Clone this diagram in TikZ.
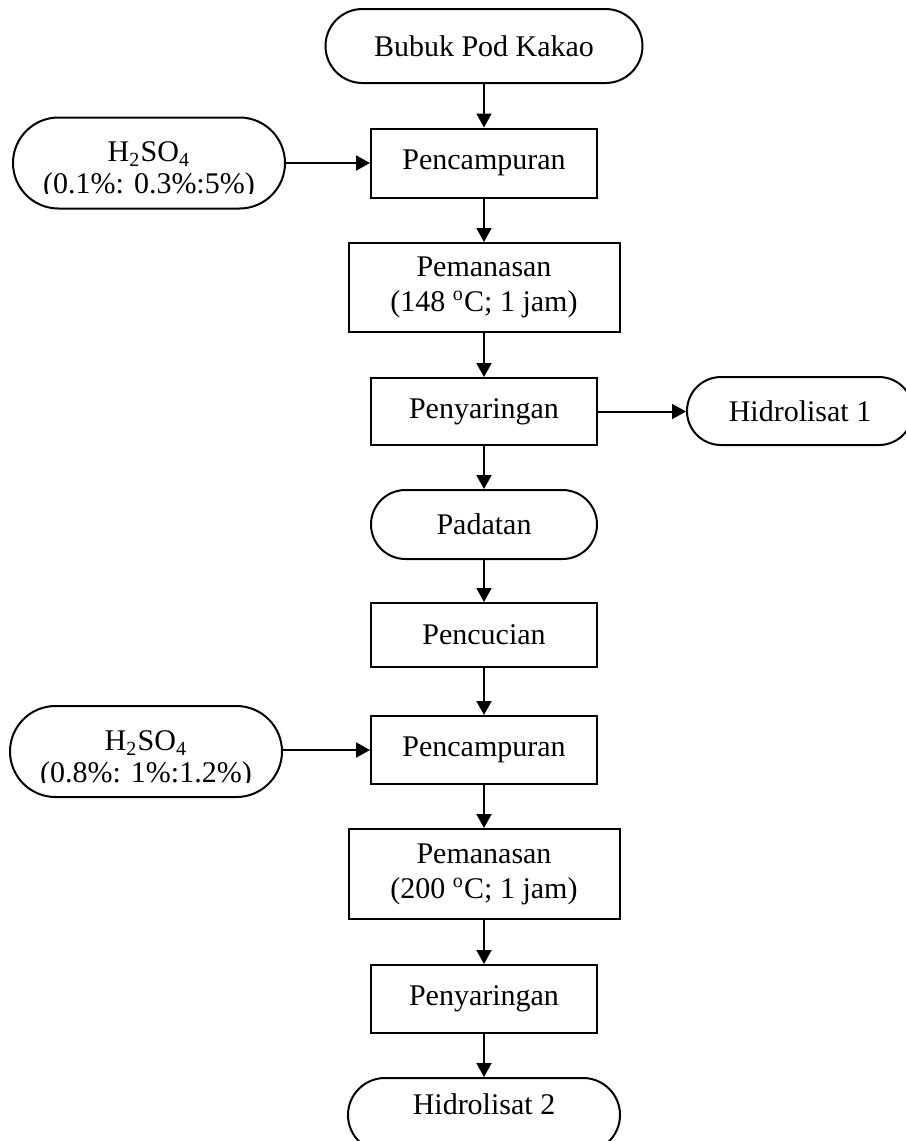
\documentclass[tikz,border=0pt]{standalone}
\usepackage{fontspec}
\setmainfont{Liberation Serif}
\usetikzlibrary{arrows.meta}
\begin{document}
\begin{tikzpicture}[x=0.4pt,y=-0.4pt,
  every node/.style={font=\fontsize{12}{14}\selectfont, inner sep=0pt, line width=0.8pt},
  procbox/.style={draw, rectangle, minimum width=90.4pt, minimum height=27.2pt, align=center},
  termbox/.style={draw, rectangle, align=center},
  acidtext/.style={align=center, font=\fontsize{12}{12.8}\selectfont},
  arr/.style={-{Triangle[length=5.6pt,width=6pt]}, line width=0.8pt}]
\useasboundingbox (0,0) rectangle (906,1141);
\clip (0,0) rectangle (906,1141);

% main column
\node[termbox, minimum width=126.8pt, minimum height=29.6pt, rounded corners=14.8pt] (bubuk) at (484,46) {Bubuk Pod Kakao};
\node[procbox, minimum height=27.6pt] (mix1) at (484,163) {Pencampuran};
\node[procbox, minimum width=108.4pt, minimum height=35.6pt] (heat1) at (484,287.5) {Pemanasan\\(148 \textsuperscript{o}C; 1 jam)};
\node[procbox, minimum height=26.8pt] (filt1) at (484,411.5) {Penyaringan};
\node[termbox, minimum width=90.4pt, minimum height=27.2pt, rounded corners=13.6pt] (hid1) at (800,411) {Hidrolisat 1};
\node[termbox, minimum width=90.4pt, minimum height=27.6pt, rounded corners=13.8pt] (padatan) at (484,524.5) {Padatan};
\node[procbox, minimum height=25.6pt] (wash) at (484,635) {Pencucian};
\node[procbox] (mix2) at (484,750) {Pencampuran};
\node[procbox, minimum width=108.4pt, minimum height=36pt] (heat2) at (484,874) {Pemanasan\\(200 \textsuperscript{o}C; 1 jam)};
\node[procbox] (filt2) at (484,999) {Penyaringan};
\node[termbox, minimum width=108.8pt, minimum height=29.6pt, rounded corners=14.8pt, text depth=9pt] (hid2) at (484,1115) {Hidrolisat 2};

% acid inputs
\node[termbox, minimum width=108.8pt, minimum height=36.4pt, rounded corners=18.2pt] (acid1) at (149,163) {};
\begin{scope}
  \clip (0,100) rectangle (300,193);
  \node[acidtext] (acid1txt) at (149,171) {H\textsubscript{2}SO\textsubscript{4}\\(0.1\%: 0.3\%:5\%)};
\end{scope}
\node[termbox, minimum width=108.8pt, minimum height=36.4pt, rounded corners=18.2pt] (acid2) at (146,751.5) {};
\begin{scope}
  \clip (0,690) rectangle (300,782);
  \node[acidtext] (acid2txt) at (146,760) {H\textsubscript{2}SO\textsubscript{4}\\(0.8\%: 1\%:1.2\%)};
\end{scope}

% connectors
\draw[arr] (bubuk) -- (mix1);
\draw[arr] (mix1) -- (heat1);
\draw[arr] (heat1) -- (filt1);
\draw[arr] (filt1) -- (padatan);
\draw[arr] (padatan) -- (wash);
\draw[arr] (wash) -- (mix2);
\draw[arr] (mix2) -- (heat2);
\draw[arr] (heat2) -- (filt2);
\draw[arr] (filt2) -- (hid2);
\draw[arr] (filt1.east) -- (filt1.east -| hid1.west);
\draw[arr] (acid1.east |- mix1.west) -- (mix1.west);
\draw[arr] (acid2.east |- mix2.west) -- (mix2.west);
\end{tikzpicture}
\end{document}
